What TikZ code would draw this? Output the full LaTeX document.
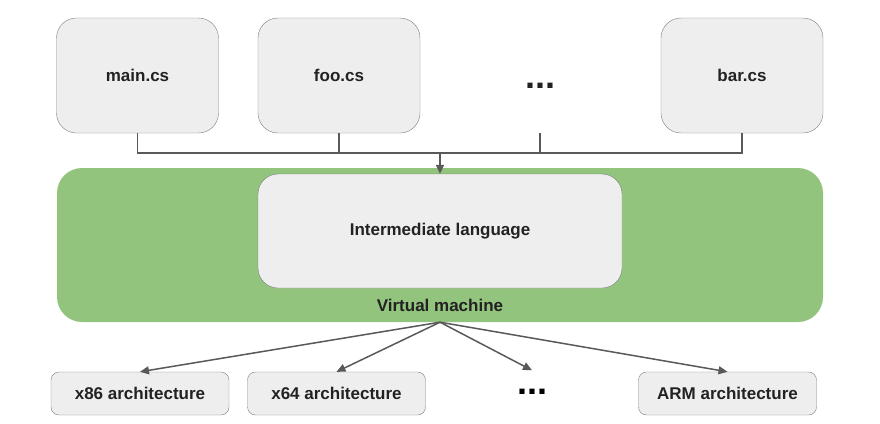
\documentclass[tikz,border=0pt]{standalone}
\usepackage{fontspec}
\setmainfont{Liberation Sans}
\usetikzlibrary{arrows.meta}
\definecolor{boxgray}{HTML}{EEEEEE}
\definecolor{edgegray}{HTML}{7F7F7F}
\definecolor{linegray}{HTML}{595959}
\definecolor{vmgreen}{HTML}{93C47D}
\definecolor{txt}{HTML}{222222}
\tikzset{
    src/.style={draw=edgegray, fill=boxgray, rounded corners=20pt, minimum width=162pt, minimum height=115pt, text=txt},
    arch/.style={draw=edgegray, fill=boxgray, rounded corners=8pt, minimum width=178pt, minimum height=43pt, text=txt},
    conn/.style={draw=linegray, line width=1.5pt},
    tip/.style={-{Triangle[length=9pt,width=8pt]}}
}
\begin{document}
\begin{tikzpicture}[x=1pt, y=-1pt, font=\fontsize{17}{20}\selectfont\bfseries]
    \useasboundingbox (0,0) rectangle (880,423);
    % source files
    \node [src] (main) at (137.5,75.5) {main.cs};
    \node [src] (foo) at (339,75.5) {foo.cs};
    \node [src, draw=none, fill=none, font=\fontsize{36}{36}\selectfont\bfseries] (dots) at (540,75.5) {\raisebox{-13pt}[0pt][0pt]{...}};
    \node [src] (bar) at (742,75.5) {bar.cs};

    % virtual machine
    \node [fill=vmgreen, rounded corners=25pt, minimum width=766pt, minimum height=154pt] (vm) at (440,245) {};
    \node [src, minimum width=364pt, minimum height=114pt] (il) at (440,231) {Intermediate language};
    \node [text=txt] (vmlabel) at (440,305) {Virtual machine};

    % collecting line
    \coordinate (join) at (440,153);
    \draw [conn] (main.south) -- (main.south |- join) -- (bar.south |- join) -- (bar.south);
    \foreach \n in {foo,dots} {
        \draw [conn] (\n.south) -- (\n.south |- join);
    }
    \draw [conn, tip] (join) -- (il.north);

    % architectures
    \node [arch] (x86) at (140,393.5) {x86 architecture};
    \node [arch] (x64) at (336.5,393.5) {x64 architecture};
    \node [font=\fontsize{36}{36}\selectfont\bfseries, minimum height=43pt] (archdots) at (532,392) {...};
    \node [arch] (arm) at (727.5,393.5) {ARM architecture};
    \foreach \n in {x86,x64,archdots,arm} {
        \draw [conn, tip] (vm.south) -- (\n.north);
    }
\end{tikzpicture}
\end{document}
